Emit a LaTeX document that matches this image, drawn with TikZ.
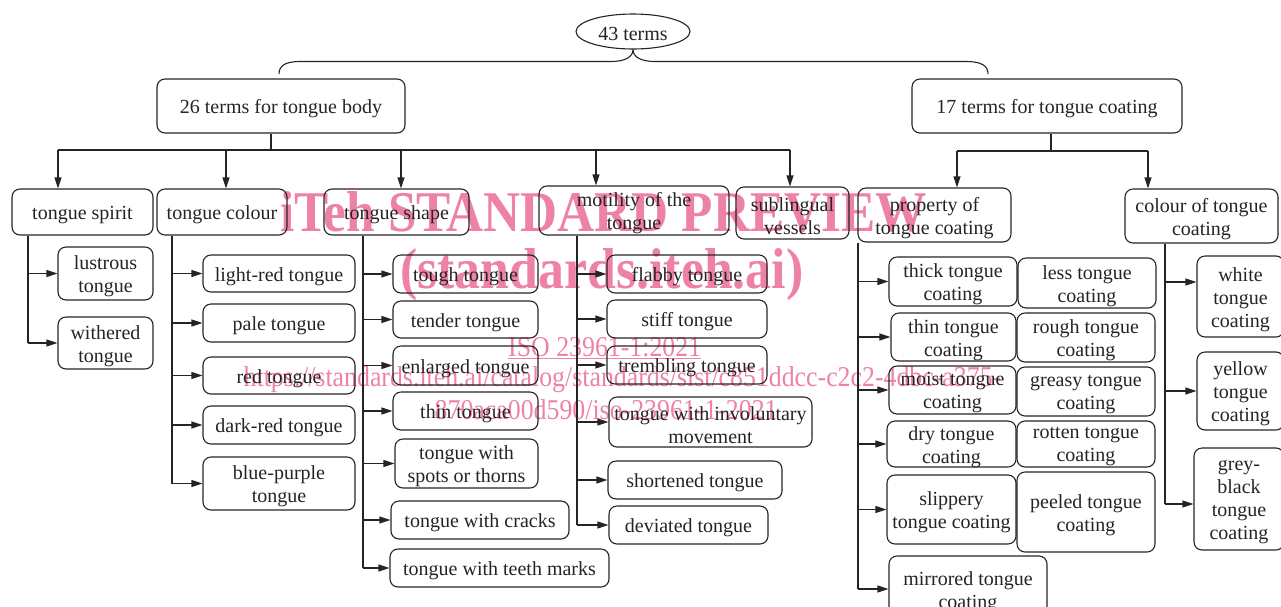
\documentclass[tikz,border=0pt]{standalone}
\usepackage{fontspec}
\usepackage{graphicx}
\setmainfont{Liberation Serif}
\usetikzlibrary{shapes.geometric,arrows.meta,calc}
\definecolor{ink}{HTML}{262324}
\definecolor{wm}{HTML}{EE82A4}
\newcommand\mkbox[6]{%
 \pgfmathsetmacro\bxcx{(#2+#4)/2}%
 \pgfmathsetmacro\bxcy{(#3+#5)/2}%
 \pgfmathsetmacro\bxw{#4-#2}%
 \pgfmathsetmacro\bxh{#5-#3}%
 \node[box,minimum width=\bxw pt,minimum height=\bxh pt] (#1) at (\bxcx,\bxcy) {};
 \node[boxtext] (#1t) at ([yshift=-3pt]#1.center) {#6};}
\begin{document}
\begin{tikzpicture}[x=1pt,y=-1pt,
 box/.style={draw=ink,line width=1.1pt,rounded corners=8pt,inner sep=0pt},
 boxtext/.style={inner sep=0pt,align=center,text=ink,font=\fontsize{20}{23}\selectfont},
 conn/.style={draw=ink,line width=1.1pt},
 arr/.style={conn,-{Triangle[length=11pt,width=7pt]}},
 wmtext/.style={text=wm,inner sep=0pt,anchor=base west}]
\useasboundingbox (0,0) rectangle (1281,606);
% watermark (behind)
\node[wmtext,font=\fontsize{57.6}{60}\selectfont\bfseries] (wm1) at (280,231) {\scalebox{0.89}[1]{iTeh STANDARD PREVIEW}};
\node[wmtext,font=\fontsize{57.6}{60}\selectfont\bfseries] (wm2) at (400,288) {\scalebox{0.9}[1]{(standards.iteh.ai)}};
\node[wmtext,font=\fontsize{28.7}{30}\selectfont] (wm3) at (508,356) {\scalebox{0.9}[1]{\underline{ISO 23961-1:2021}}};
\node[wmtext,font=\fontsize{28.7}{30}\selectfont] (wm4) at (243.5,386) {\scalebox{0.9}[1]{https://standards.iteh.ai/catalog/standards/sist/c851ddcc-c2c2-4dbc-a375-}};
\node[wmtext,font=\fontsize{28.7}{30}\selectfont] (wm5) at (434.5,419) {\scalebox{0.9}[1]{870aca00d590/iso-23961-1-2021}};
% root
\node[draw=ink,line width=1.1pt,ellipse,minimum width=114pt,minimum height=35pt,inner sep=0pt] (root) at (633,31.5) {};
\node[boxtext] (roott) at ([yshift=-2pt]root.center) {43 terms};
\mkbox{tb}{157}{79}{405}{133}{26 terms for tongue body}
\mkbox{tc}{912}{79}{1182}{133}{17 terms for tongue coating}
\coordinate (bl) at (279,74);
\coordinate (br) at (988,74);
\draw[conn] (root.south) .. controls (633,57) and (625,61.5) .. (611,61.5) -- (300,61.5) .. controls (285,61.5) and (279,66) .. (bl);
\draw[conn] (root.south) .. controls (633,57) and (641,61.5) .. (655,61.5) -- (966,61.5) .. controls (982,61.5) and (988,66) .. (br);
% row 2
\mkbox{ts}{12}{189}{153}{235}{tongue spirit}
\mkbox{tcol}{157}{189}{287}{235}{tongue colour}
\mkbox{tsh}{324}{189}{469}{235}{tongue shape}
\mkbox{mo}{539}{186}{729}{235}{motility of the\\tongue}
\mkbox{sv}{736}{187}{849}{239}{sublingual\\vessels}
\mkbox{pr}{858}{188}{1011}{242}{property of\\tongue coating}
\mkbox{cc}{1125}{189}{1278}{243}{colour of tongue\\coating}
% body bus
\coordinate (b1) at (58,150);
\coordinate (b2) at (226,150);
\coordinate (b3) at (401,150);
\coordinate (b4) at (596,150);
\coordinate (b5) at (790,150);
\draw[conn] ([xshift=-10pt]tb.south) -- ([xshift=-10pt]tb.south |- b1);
\draw[conn] (b1) -- (b5);
\draw[arr] (b1) -- (b1 |- ts.north);
\draw[arr] (b2) -- (b2 |- tcol.north);
\draw[arr] (b3) -- (b3 |- tsh.north);
\draw[arr] (b4) -- (b4 |- mo.north);
\draw[arr] (b5) -- (b5 |- sv.north);
% coating bus
\coordinate (c1) at (957,151);
\coordinate (c2) at (1148,151);
\draw[conn] ([xshift=4pt]tc.south) -- ([xshift=4pt]tc.south |- c1);
\draw[conn] (c1) -- (c2);
\draw[arr] (c1) -- (c1 |- pr.north);
\draw[arr] (c2) -- (c2 |- cc.north);
% tongue spirit children
\mkbox{lt}{58}{247}{153}{300}{lustrous\\tongue}
\mkbox{wt}{58}{317}{153}{369}{withered\\tongue}
\coordinate (t1) at (28,0);
\draw[conn] (ts.south -| t1) -- (wt.west -| t1);
\draw[arr] (lt.west -| t1) -- (lt.west);
\draw[arr] (wt.west -| t1) -- (wt.west);
% tongue colour children
\mkbox{lr}{203}{255}{355}{292}{light-red tongue}
\mkbox{pl}{203}{304}{355}{342}{pale tongue}
\mkbox{rd}{203}{357}{355}{394}{red tongue}
\mkbox{dr}{203}{406}{355}{444}{dark-red tongue}
\mkbox{bp}{203}{457}{355}{510}{blue-purple\\tongue}
\coordinate (t2) at (172,0);
\draw[conn] (tcol.south -| t2) -- (bp.west -| t2);
\foreach \n in {lr,pl,rd,dr,bp} \draw[arr] (\n.west -| t2) -- (\n.west);
% tongue shape children
\mkbox{tg}{393}{255}{538}{293}{tough tongue}
\mkbox{td}{393}{301}{538}{338}{tender tongue}
\mkbox{en}{393}{346}{538}{385}{enlarged tongue}
\mkbox{tn}{393}{392}{538}{430}{thin tongue}
\mkbox{sp}{395}{439}{538}{488}{tongue with\\spots or thorns}
\mkbox{cr}{391}{501}{569}{539}{tongue with cracks}
\mkbox{tm}{390}{549}{609}{587}{tongue with teeth marks}
\coordinate (t3) at (363,0);
\draw[conn] (tsh.south -| t3) -- (tm.west -| t3);
\foreach \n in {tg,td,en,tn,sp,cr,tm} \draw[arr] (\n.west -| t3) -- (\n.west);
% motility children
\mkbox{fl}{607}{255}{767}{293}{flabby tongue}
\mkbox{st}{607}{300}{767}{338}{stiff tongue}
\mkbox{tr}{607}{346}{767}{384}{trembling tongue}
\mkbox{iv}{609}{397}{812}{447}{tongue with involuntary\\movement}
\mkbox{sh}{608}{461}{782}{499}{shortened tongue}
\mkbox{dv}{609}{506}{768}{544}{deviated tongue}
\coordinate (t4) at (577,0);
\draw[conn] (mo.south -| t4) -- (dv.west -| t4);
\foreach \n in {fl,st,tr,iv,sh,dv} \draw[arr] (\n.west -| t4) -- (\n.west);
% property children
\mkbox{thk}{889}{257}{1017}{306}{thick tongue\\coating}
\mkbox{thn}{891}{313}{1016}{361}{thin tongue\\coating}
\mkbox{mst}{889}{366}{1016}{414}{moist tongue\\coating}
\mkbox{dry}{887}{421}{1016}{467}{dry tongue\\coating}
\mkbox{slp}{887}{475}{1016}{544}{slippery\\tongue coating}
\mkbox{mir}{889}{556}{1047}{622}{mirrored tongue\\coating}
\mkbox{les}{1018}{258}{1156}{308}{less tongue\\coating}
\mkbox{rgh}{1017}{313}{1155}{362}{rough tongue\\coating}
\mkbox{grs}{1017}{367}{1155}{416}{greasy tongue\\coating}
\mkbox{rot}{1017}{421}{1155}{467}{rotten tongue\\coating}
\mkbox{pel}{1017}{472}{1155}{552}{peeled tongue\\coating}
\coordinate (t5) at (858,0);
\draw[conn] (pr.south -| t5) -- (mir.west -| t5);
\foreach \n in {thk,thn,mst,dry,slp,mir} \draw[arr] (\n.west -| t5) -- (\n.west);
% colour of coating children
\mkbox{wc}{1197}{256}{1284}{337}{white\\tongue\\coating}
\mkbox{yc}{1197}{352}{1284}{430}{yellow\\tongue\\coating}
\mkbox{gb}{1194}{448}{1284}{550}{grey-\\black\\tongue\\coating}
\coordinate (t6) at (1165,0);
\draw[conn] (cc.south -| t6) -- ([yshift=-5pt]gb.west -| t6);
\draw[arr] ([yshift=14.5pt]wc.west -| t6) -- ([yshift=14.5pt]wc.west);
\draw[arr] (yc.west -| t6) -- (yc.west);
\draw[arr] ([yshift=-5pt]gb.west -| t6) -- ([yshift=-5pt]gb.west);
\end{tikzpicture}
\end{document}
